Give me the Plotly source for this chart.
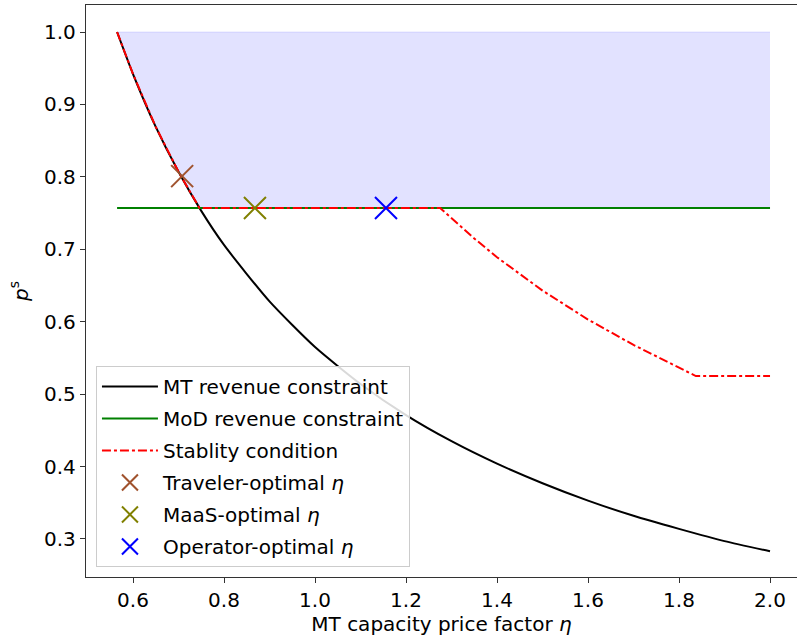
import plotly.graph_objects as go

# MT revenue constraint
eta_mt = [0.565, 0.6, 0.65, 0.7, 0.75, 0.8, 0.9, 1.0, 1.1, 1.2, 1.3, 1.4, 1.5, 1.6, 1.7, 1.8, 1.9, 2.0]
p_mt = [1.0, 0.942, 0.869, 0.807, 0.753, 0.706, 0.628, 0.565, 0.514, 0.471, 0.435, 0.404, 0.377, 0.353, 0.332, 0.314, 0.297, 0.283]

# MoD revenue constraint
eta_mod = [0.565, 2.0]
p_mod = [0.757, 0.757]

# Stability condition
eta_stab = [0.565, 0.6, 0.65, 0.7, 0.746, 1.0, 1.275, 1.35, 1.4, 1.5, 1.6, 1.7, 1.8, 1.837, 2.0]
p_stab = [1.0, 0.942, 0.869, 0.807, 0.757, 0.757, 0.757, 0.715, 0.689, 0.643, 0.603, 0.568, 0.536, 0.525, 0.525]

# Feasible region bounds
eta_region = [0.565, 0.6, 0.65, 0.7, 0.746, 2.0]
p_region_low = [1.0, 0.942, 0.869, 0.807, 0.757, 0.757]
p_region_high = [1.0, 1.0, 1.0, 1.0, 1.0, 1.0]

# Optimal points
opt_names = ["Traveler-optimal <i>η</i>", "MaaS-optimal <i>η</i>", "Operator-optimal <i>η</i>"]
opt_eta = [0.708, 0.868, 1.156]
opt_p = [0.801, 0.757, 0.757]
opt_colors = ["#a0522d", "#808000", "#0000ff"]

x_ticks = [0.6, 0.8, 1.0, 1.2, 1.4, 1.6, 1.8, 2.0]
y_ticks = [0.3, 0.4, 0.5, 0.6, 0.7, 0.8, 0.9, 1.0]

FONT = "DejaVu Sans"
fig = go.Figure()

fig.add_trace(go.Scatter(x=eta_region, y=p_region_low, mode="lines",
                         line=dict(width=0), showlegend=False, hoverinfo="skip"))
fig.add_trace(go.Scatter(x=eta_region, y=p_region_high, mode="lines",
                         line=dict(width=1, color="rgba(0,0,255,0.10)"),
                         fill="tonexty", fillcolor="rgba(0,0,255,0.115)",
                         showlegend=False, hoverinfo="skip"))

fig.add_trace(go.Scatter(x=eta_mt, y=p_mt, mode="lines", name="MT revenue constraint",
                         legendgroup="g1",
                         line=dict(color="black", width=2, shape="spline", smoothing=0.6)))
fig.add_trace(go.Scatter(x=eta_mod, y=p_mod, mode="lines", name="MoD revenue constraint",
                         legendgroup="g2", line=dict(color="green", width=2)))
fig.add_trace(go.Scatter(x=eta_stab, y=p_stab, mode="lines", name="Stablity condition",
                         legendgroup="g3", line=dict(color="red", width=2, dash="dashdot")))

for i, (n, xx, yy, c) in enumerate(zip(opt_names, opt_eta, opt_p, opt_colors)):
    fig.add_trace(go.Scatter(x=[xx], y=[yy], mode="markers", name=n, legendgroup="m%d" % i,
                             marker=dict(symbol="x-thin-open", size=22,
                                         line=dict(color=c, width=2), color=c)))

fig.update_layout(
    width=797, height=642,
    margin=dict(l=86, r=0, t=5, b=65, autoexpand=False),
    paper_bgcolor="white", plot_bgcolor="white",
    font=dict(family=FONT, size=20, color="black"),
    showlegend=True,
    legend=dict(x=0.014, y=0.0175, xanchor="left", yanchor="bottom",
                traceorder="grouped", tracegroupgap=3, itemwidth=56,
                bgcolor="rgba(255,255,255,0.85)", bordercolor="#cccccc", borderwidth=1,
                font=dict(size=20, family=FONT)),
)
fig.update_xaxes(range=[0.4967, 2.0593], tickvals=x_ticks,
                 ticktext=["%.1f" % v for v in x_ticks], automargin=False,
                 showgrid=False, zeroline=False, showline=True, linecolor="#333", linewidth=1.3,
                 mirror=True, ticks="outside", ticklen=5, tickcolor="#333",
                 tickfont=dict(size=20),
                 title=dict(text="MT capacity price factor <i>η</i>", font=dict(size=20), standoff=2))
fig.update_yaxes(range=[0.2475, 1.0373], tickvals=y_ticks,
                 ticktext=["%.1f" % v for v in y_ticks], automargin=False,
                 showgrid=False, zeroline=False, showline=True, linecolor="#333", linewidth=1.3,
                 mirror=False, ticks="outside", ticklen=5, tickcolor="#333",
                 tickfont=dict(size=20),
                 title=dict(text="<i>p</i><sup>s</sup>", font=dict(size=20), standoff=10))

fig.write_html("out.html", config={"displayModeBar": False},
               post_script="document.body.style.margin='0px';")
